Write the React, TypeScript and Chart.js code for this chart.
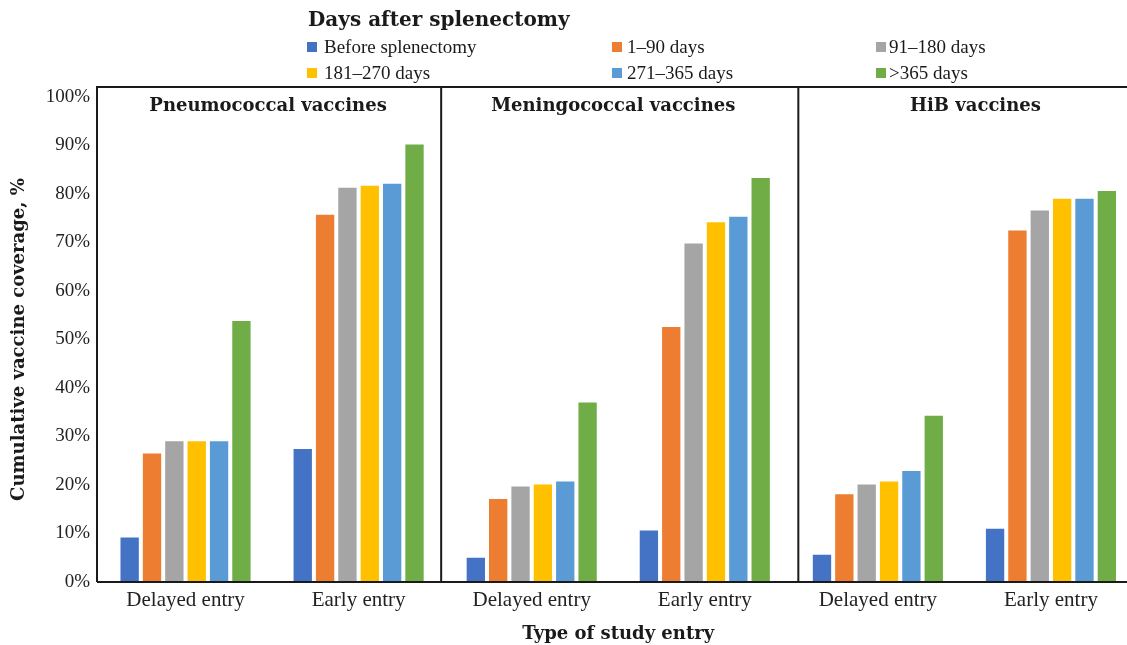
import React, { useEffect, useRef } from "react";
import { Chart, registerables } from "chart.js";

Chart.register(...registerables);

const categories = ["Delayed entry", "Early entry", "Delayed entry", "Early entry", "Delayed entry", "Early entry"];
const panelTitles = ["Pneumococcal vaccines", "Meningococcal vaccines", "HiB vaccines"];
const seriesNames = ["Before splenectomy", "1–90 days", "91–180 days", "181–270 days", "271–365 days", ">365 days"];
const seriesColors = ["#4472C4", "#ED7D31", "#A5A5A5", "#FFC000", "#5B9BD5", "#70AD47"];

const beforeSplenectomy = [9.2, 27.4, 5.0, 10.6, 5.6, 11.0];
const days1to90 = [26.5, 75.7, 17.1, 52.6, 18.1, 72.5];
const days91to180 = [29.0, 81.3, 19.7, 69.8, 20.1, 76.6];
const days181to270 = [29.0, 81.7, 20.1, 74.2, 20.7, 79.0];
const days271to365 = [29.0, 82.1, 20.7, 75.3, 22.9, 79.0];
const daysOver365 = [53.8, 90.2, 37.0, 83.3, 34.3, 80.6];

const yTicks = [0, 10, 20, 30, 40, 50, 60, 70, 80, 90, 100];

const seriesValues = [beforeSplenectomy, days1to90, days91to180, days181to270, days271to365, daysOver365];

const SERIF = "'Liberation Serif', 'DejaVu Serif', serif";
const BOLD_SERIF = "'DejaVu Serif', 'Liberation Serif', serif";

const decorPlugin = {
  id: "decor",
  afterDatasetsDraw(chart: any) {
    const { ctx, chartArea, scales } = chart;
    const x = scales.x;
    const left = chartArea.left - 2;
    const top = chartArea.top - 10;
    const bottom = chartArea.bottom;
    const d1 = x.getPixelForValue(1.5) - 4;
    const d2 = x.getPixelForValue(3.5) + 7;
    ctx.save();
    ctx.strokeStyle = "#1a1a1a";
    ctx.lineWidth = 2;
    ctx.beginPath();
    ctx.moveTo(left, bottom);
    ctx.lineTo(left, top);
    ctx.lineTo(chart.width, top);
    ctx.moveTo(left, bottom);
    ctx.lineTo(chart.width, bottom);
    ctx.moveTo(d1, top);
    ctx.lineTo(d1, bottom);
    ctx.moveTo(d2, top);
    ctx.lineTo(d2, bottom);
    ctx.stroke();

    ctx.fillStyle = "#1a1a1a";
    ctx.font = `bold 18px ${BOLD_SERIF}`;
    ctx.textAlign = "center";
    ctx.textBaseline = "middle";
    const shifts = [-4, -5, 11];
    panelTitles.forEach((t, i) => {
      const cx = (x.getPixelForValue(2 * i) + x.getPixelForValue(2 * i + 1)) / 2 + shifts[i];
      ctx.fillText(t, cx, top + 19);
    });
    ctx.restore();
  },
  afterDraw(chart: any) {
    const { ctx } = chart;
    ctx.save();
    ctx.fillStyle = "#1a1a1a";
    ctx.textBaseline = "middle";
    ctx.textAlign = "left";
    ctx.font = `bold 20px ${BOLD_SERIF}`;
    ctx.fillText("Days after splenectomy", 308, 21);
    ctx.font = `19px ${SERIF}`;
    const colSq = [307, 612, 876];
    const colTx = [324, 627, 889];
    const rowY = [47, 73];
    chart.data.datasets.forEach((ds: any, i: number) => {
      const r = Math.floor(i / 3);
      const c = i % 3;
      ctx.fillStyle = ds.backgroundColor;
      ctx.fillRect(colSq[c], rowY[r] - 5, 10, 10);
      ctx.fillStyle = "#1a1a1a";
      ctx.fillText(ds.label, colTx[c], rowY[r] + 1);
    });
    ctx.restore();
  },
};

export default function App() {
  const ref = useRef<HTMLCanvasElement>(null);
  useEffect(() => {
    if (!ref.current) return;
    const chart = new Chart(ref.current, {
      type: "bar",
      data: {
        labels: categories,
        datasets: seriesNames.map((name, i) => ({
          label: name,
          data: seriesValues[i],
          backgroundColor: seriesColors[i],
          borderWidth: 0,
          categoryPercentage: 0.775,
          barPercentage: 0.82,
        })),
      },
      options: {
        responsive: false,
        animation: false,
        events: [],
        layout: { padding: { top: 97, right: 2.5, left: 0, bottom: 0 } },
        plugins: {
          legend: { display: false },
          tooltip: { enabled: false },
        },
        scales: {
          x: {
            offset: true,
            grid: { display: false, drawTicks: false },
            border: { display: false },
            ticks: { color: "#222", font: { family: SERIF, size: 21 }, padding: 6, maxRotation: 0, autoSkip: false },
            title: {
              display: true,
              text: "Type of study entry",
              color: "#1a1a1a",
              font: { family: BOLD_SERIF, size: 18, weight: "bold" },
              padding: { top: 0, bottom: 0 },
            },
            afterFit(scale: any) {
              scale.height = 63;
            },
          },
          y: {
            min: 0,
            max: 100,
            afterBuildTicks(scale: any) {
              scale.ticks = yTicks.map((v) => ({ value: v }));
            },
            grid: { display: false, drawTicks: false },
            border: { display: false },
            ticks: {
              color: "#222",
              font: { family: SERIF, size: 19 },
              padding: 9,
              callback: (v: any) => `${v}%`,
            },
            title: {
              display: true,
              text: "Cumulative vaccine coverage, %",
              color: "#1a1a1a",
              font: { family: BOLD_SERIF, size: 18, weight: "bold" },
              padding: { top: 9, bottom: 0 },
            },
            afterFit(scale: any) {
              scale.width = 99;
            },
          },
        },
      },
      plugins: [decorPlugin],
    });
    return () => chart.destroy();
  }, []);
  return (
    <div style={{ position: "fixed", left: 0, top: 0, width: 1127, height: 645, overflow: "hidden", background: "#fff" }}>
      <canvas ref={ref} width={1140} height={645} style={{ display: "block" }} />
    </div>
  );
}
